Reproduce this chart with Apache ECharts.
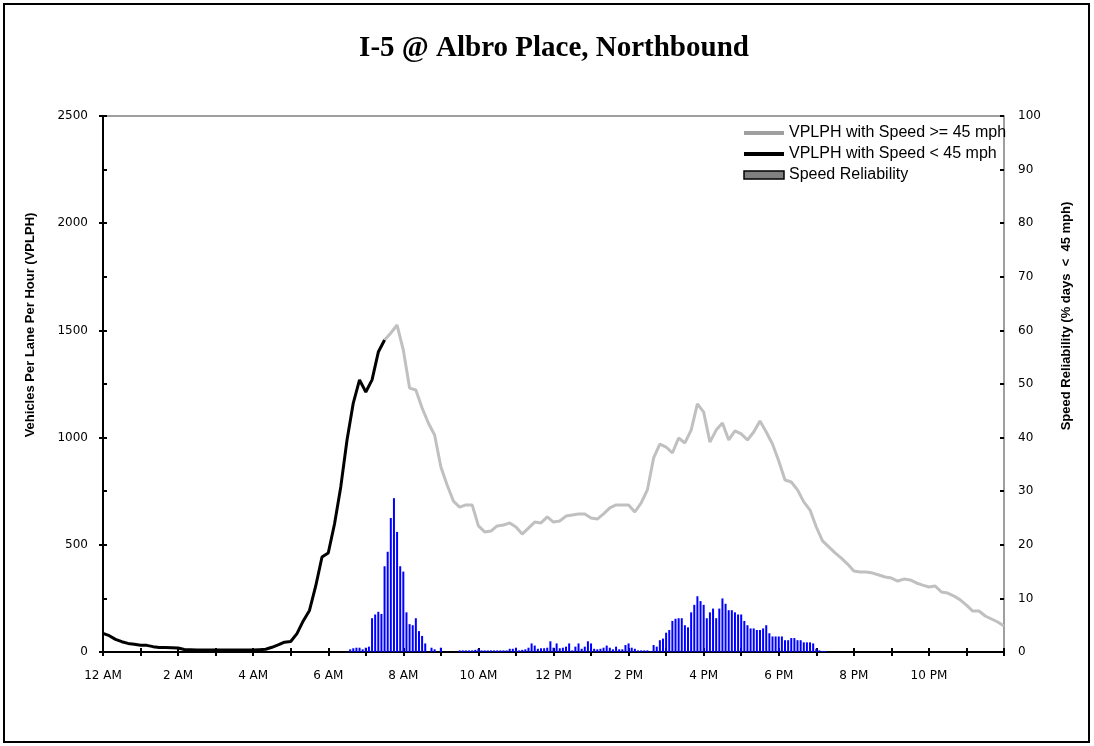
<!DOCTYPE html>
<html>
<head>
<meta charset="utf-8">
<title>I-5 @ Albro Place, Northbound</title>
<script src="https://cdn.jsdelivr.net/npm/echarts@6/dist/echarts.min.js"></script>
<style>
  html, body { margin: 0; padding: 0; background: #fff; }
  #chart { width: 1094px; height: 746px; }
</style>
</head>
<body>
<div id="chart"></div>
<script>
'use strict';

/*
 * I-5 @ Albro Place, Northbound
 * volume per lane (10 min steps) and speed reliability (5 min steps)
 */

// VPLPH, one value every 10 minutes from 12 AM to 12 AM
const LINE_STEP = 10;
const vplph = [
    87, 76, 59, 48, 40, 36,
    32, 31, 25, 21, 21, 20,
    19, 12, 11, 9, 9, 9,
    9, 9, 9, 9, 9, 9,
    9, 11, 13, 22, 33, 46,
    49, 86, 145, 194, 308, 443,
    462, 597, 770, 989, 1161, 1269,
    1213, 1269, 1399, 1455, 1488, 1525,
    1408, 1231, 1222, 1138, 1068, 1012,
    863, 779, 704, 676, 686, 686,
    588, 560, 564, 588, 592, 602,
    583, 550, 578, 606, 602, 630,
    606, 611, 634, 639, 644, 644,
    625, 620, 644, 672, 686, 686,
    686, 653, 695, 756, 905, 970,
    956, 928, 998, 975, 1035, 1157,
    1119, 979, 1035, 1068, 989, 1031,
    1017, 989, 1026, 1077, 1026, 970,
    891, 802, 793, 756, 700, 662,
    583, 518, 490, 462, 438, 410,
    378, 373, 373, 368, 359, 350,
    345, 331, 340, 336, 322, 312,
    303, 308, 280, 275, 261, 243,
    219, 191, 191, 168, 154, 140,
    121
];
// speed stays below 45 mph up to this index (7:30 AM)
const congestedUntil = 45;

// speed reliability (% days < 45 mph), every 5 minutes from 6:00 AM
const BAR_START = 360;
const BAR_STEP = 5;
const reliability = [
    0, 0, 0, 0, 0, 0, 0, 0.5, 0.7, 0.8, 0.8, 0.5,
    0.8, 1.0, 6.3, 7.0, 7.5, 7.1, 16, 18.7, 25, 28.7, 22.4, 16,
    15, 7.4, 5.2, 5.0, 6.3, 3.9, 3.0, 1.6, 0, 0.8, 0.5, 0,
    0.8, 0, 0, 0, 0, 0, 0.3, 0.3, 0.3, 0.3, 0.3, 0.4,
    0.6, 0.3, 0.3, 0.3, 0.3, 0.3, 0.3, 0.3, 0.3, 0.3, 0.6, 0.6,
    0.8, 0.3, 0.4, 0.5, 0.8, 1.6, 1.2, 0.6, 0.7, 0.7, 0.8, 2.0,
    0.8, 1.6, 0.7, 0.8, 1.0, 1.6, 0.3, 1.0, 1.6, 0.6, 1.0, 2.0,
    1.6, 0.6, 0.5, 0.6, 0.8, 1.2, 0.8, 0.5, 1.0, 0.5, 0.5, 1.3,
    1.6, 0.8, 0.6, 0.3, 0.3, 0.3, 0.3, 0.2, 1.3, 1.0, 2.2, 2.5,
    3.6, 4.1, 5.8, 6.2, 6.3, 6.3, 5.0, 4.6, 7.4, 8.8, 10.4, 9.5,
    8.8, 6.3, 7.4, 8.1, 6.3, 8.1, 10.0, 9.0, 7.8, 7.8, 7.4, 7.0,
    7.0, 5.8, 5.0, 4.4, 4.4, 4.1, 4.1, 4.4, 5.0, 3.5, 2.9, 2.9,
    2.9, 2.9, 2.2, 2.2, 2.6, 2.6, 2.2, 2.2, 1.8, 1.8, 1.8, 1.6,
    0.6, 0.3, 0.2, 0.2, 0
];

const hourLabels = ['12 AM', '2 AM', '4 AM', '6 AM', '8 AM', '10 AM',
    '12 PM', '2 PM', '4 PM', '6 PM', '8 PM', '10 PM'];

const NAME_FAST = 'VPLPH with Speed >= 45 mph';
const NAME_SLOW = 'VPLPH with Speed < 45 mph';
const NAME_REL = 'Speed Reliability';

const slowData = vplph.slice(0, congestedUntil + 1).map((v, i) => [i * LINE_STEP, v]);
const fastData = vplph.slice(congestedUntil).map((v, i) => [(i + congestedUntil) * LINE_STEP, v]);
const barData = reliability.map((v, i) => [BAR_START + i * BAR_STEP, v]);

const axisFont = 'DejaVu Sans';
const black = { color: '#000', width: 2 };

const innerTicks = {
    axisLine: { show: false },
    axisLabel: { show: false },
    splitLine: { show: false },
    axisTick: { inside: true, length: 4, lineStyle: black }
};

const chart = echarts.init(document.getElementById('chart'));

chart.setOption({
    animation: false,
    backgroundColor: '#fff',
    title: {
        text: 'I-5 @ Albro Place, Northbound',
        left: 549,
        top: 29,
        textAlign: 'center',
        textStyle: { fontFamily: 'Liberation Serif', fontWeight: 'bold', fontSize: 29, color: '#000' }
    },
    grid: {
        left: 103, right: 90, top: 116, bottom: 94,
        show: true, borderColor: '#808080', borderWidth: 1.5
    },
    legend: {
        orient: 'vertical',
        left: 742,
        top: 125,
        padding: 0,
        itemWidth: 40,
        itemHeight: 8,
        itemGap: 5,
        textStyle: { fontFamily: 'Liberation Sans', fontSize: 16, color: '#000' },
        data: [
            { name: NAME_FAST, itemStyle: { opacity: 0 }, lineStyle: { color: '#a0a0a0', width: 4 } },
            { name: NAME_SLOW, itemStyle: { opacity: 0 }, lineStyle: { color: '#000', width: 4 } },
            { name: NAME_REL, icon: 'rect', itemStyle: { color: '#808080', borderColor: '#000', borderWidth: 1.5 } }
        ]
    },
    xAxis: [
        {
            type: 'value', min: 0, max: 1440, interval: 60,
            axisLine: { lineStyle: black },
            axisTick: { length: 4, lineStyle: black },
            splitLine: { show: false },
            axisLabel: {
                margin: 18, fontSize: 12, fontFamily: axisFont, color: '#000',
                formatter: v => (v % 120 === 0 && v < 1440) ? hourLabels[v / 120] : ''
            }
        },
        Object.assign({ type: 'value', min: 0, max: 1440, interval: 60, position: 'bottom' }, innerTicks)
    ],
    yAxis: [
        {
            type: 'value', position: 'left', min: 0, max: 2500, interval: 500,
            axisLine: { show: true, lineStyle: black },
            axisTick: { show: true, length: 4, lineStyle: black },
            splitLine: { show: false },
            axisLabel: { margin: 15, fontSize: 12, fontFamily: axisFont, color: '#000', formatter: v => String(v) }
        },
        {
            type: 'value', position: 'right', min: 0, max: 100, interval: 10,
            axisLine: { show: true, lineStyle: black },
            axisTick: { show: true, length: 4, lineStyle: black },
            splitLine: { show: false },
            axisLabel: { margin: 14, fontSize: 12, fontFamily: axisFont, color: '#000', formatter: v => String(v) }
        },
        Object.assign({ type: 'value', position: 'left', min: 0, max: 2500, interval: 500 }, innerTicks),
        Object.assign({ type: 'value', position: 'right', min: 0, max: 100, interval: 10 }, innerTicks)
    ],
    series: [
        {
            name: NAME_REL,
            type: 'bar',
            xAxisIndex: 0,
            yAxisIndex: 1,
            barWidth: 2,
            itemStyle: { color: '#0000ff' },
            data: barData
        },
        {
            name: NAME_FAST,
            type: 'line',
            xAxisIndex: 0,
            yAxisIndex: 0,
            symbol: 'none',
            lineStyle: { color: '#c0c0c0', width: 3 },
            itemStyle: { color: '#c0c0c0' },
            data: fastData
        },
        {
            name: NAME_SLOW,
            type: 'line',
            xAxisIndex: 0,
            yAxisIndex: 0,
            symbol: 'none',
            lineStyle: { color: '#000', width: 3 },
            itemStyle: { color: '#000' },
            data: slowData
        }
    ],
    graphic: [
        {
            type: 'rect', silent: true,
            shape: { x: 4, y: 4, width: 1085, height: 738 },
            style: { fill: 'none', stroke: '#000', lineWidth: 2 }
        },
        {
            type: 'text', x: 30, y: 325, rotation: Math.PI / 2,
            style: {
                text: 'Vehicles Per Lane Per Hour (VPLPH)',
                font: 'bold 13px "Liberation Sans"', fill: '#000',
                align: 'center', verticalAlign: 'middle'
            }
        },
        {
            type: 'text', x: 1066, y: 316, rotation: Math.PI / 2,
            style: {
                text: 'Speed Reliability (% days  <  45 mph)',
                font: 'bold 13px "Liberation Sans"', fill: '#000',
                align: 'center', verticalAlign: 'middle'
            }
        }
    ]
});
</script>
</body>
</html>
